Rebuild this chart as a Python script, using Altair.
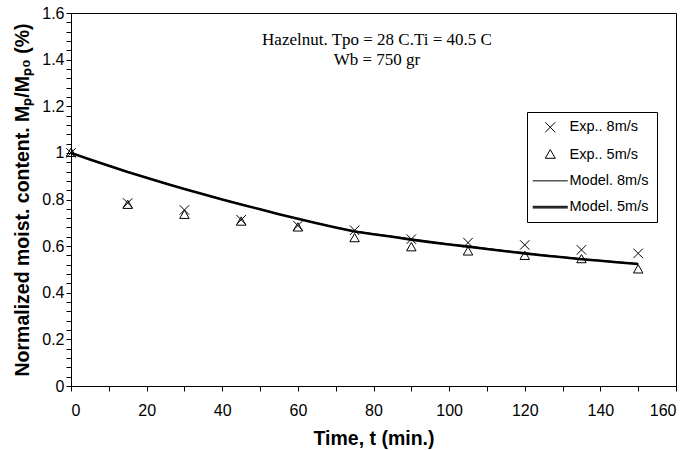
import altair as alt
import pandas as pd

# ---- data ----
time_exp = [0, 15, 30, 45, 60, 75, 90, 105, 120, 135, 150]
exp_8 = [1.000, 0.785, 0.755, 0.713, 0.688, 0.668, 0.630, 0.615, 0.605, 0.584, 0.569]
exp_5 = [1.000, 0.777, 0.734, 0.705, 0.680, 0.634, 0.595, 0.577, 0.558, 0.544, 0.500]

time_model = [0, 5, 10, 15, 20, 25, 30, 35, 40, 45, 50, 55, 60, 65, 70, 75,
              80, 85, 90, 95, 100, 105, 110, 115, 120, 125, 130, 135, 140, 145, 150]
model_5 = [1.000, 0.972, 0.945, 0.918, 0.893, 0.869, 0.845, 0.823, 0.800, 0.779,
           0.758, 0.737, 0.717, 0.698, 0.680, 0.663, 0.651, 0.640, 0.628, 0.617,
           0.607, 0.598, 0.588, 0.578, 0.569, 0.560, 0.552, 0.544, 0.537, 0.530, 0.523]
model_8 = [1.000, 0.973, 0.946, 0.919, 0.894, 0.870, 0.846, 0.824, 0.801, 0.780,
           0.759, 0.738, 0.718, 0.699, 0.681, 0.665, 0.653, 0.642, 0.630, 0.619,
           0.609, 0.600, 0.590, 0.580, 0.571, 0.562, 0.554, 0.546, 0.539, 0.532, 0.525]

series = ["Exp.. 8m/s", "Exp.. 5m/s", "Model. 8m/s", "Model. 5m/s"]
x_ticks = [0, 10, 20, 30, 40, 50, 60, 70, 80, 90, 100, 110, 120, 130, 140, 150, 160]
y_ticks = [round(i * 0.04, 2) for i in range(41)]
note_lines = ["Hazelnut. Tpo = 28 C.Ti = 40.5 C", "Wb = 750 gr"]

exp_df = pd.DataFrame({
    "t": time_exp + time_exp,
    "m": exp_8 + exp_5,
    "series": [series[0]] * len(time_exp) + [series[1]] * len(time_exp),
})
m5_df = pd.DataFrame({"t": time_model, "m": model_5})
m8_df = pd.DataFrame({"t": time_model, "m": model_8})

FONT = "Liberation Sans"

x_scale = alt.Scale(domain=[0, 160], nice=False, zero=False)
y_scale = alt.Scale(domain=[0, 1.6], nice=False)

x_axis = alt.Axis(
    title="Time, t (min.)", values=x_ticks,
    labelExpr="datum.value % 20 == 0 ? '' + datum.value : ''",
    grid=False, tickSize=5, labelPadding=11, titlePadding=11,
)
y_axis = alt.Axis(
    title="Normalized moist. content. Mₚ/Mₚ₀ (%)", values=y_ticks,
    labelExpr="abs(datum.value*5 - round(datum.value*5)) < 0.000001 ? '' + datum.value : ''",
    grid=False, tickSize=5, labelPadding=2,
    titleX=-49, titleY=186.5, titleAngle=270, titleAlign="center", titleBaseline="middle",
)

X_PATH = "M-1,-1L1,1M-1,1L1,-1"
TRI_PATH = "M0,-1L1,0.75L-1,0.75Z"
THIN_LINE = "M-3.5,0L3.5,0"
THICK_LINE = "M-3.5,-0.17L3.5,-0.17M-3.5,0L3.5,0M-3.5,0.17L3.5,0.17"

legend = alt.Legend(
    title=None, orient="none", legendX=456, legendY=99, columns=1,
    strokeColor="black", fillColor="white", padding=8,
    rowPadding=11.3, symbolSize=100, symbolOffset=8, labelOffset=12,
    symbolStrokeColor="black", symbolFillColor="transparent", symbolStrokeWidth=1,
    labelFont=FONT, labelFontSize=14.5, labelColor="black",
    labelLimit=200,
)

base_x = alt.X("t:Q", scale=x_scale, axis=x_axis)
base_y = alt.Y("m:Q", scale=y_scale, axis=y_axis)

line5 = alt.Chart(m5_df).mark_line(color="black", strokeWidth=2.6).encode(x=base_x, y=base_y)
line8 = alt.Chart(m8_df).mark_line(color="black", strokeWidth=1).encode(x=base_x, y=base_y)

points = alt.Chart(exp_df).mark_point(
    filled=False, color="black", opacity=1, size=90, strokeWidth=1
).encode(
    x=base_x, y=base_y,
    shape=alt.Shape(
        "series:N",
        scale=alt.Scale(domain=series, range=[X_PATH, TRI_PATH, THIN_LINE, THICK_LINE]),
        legend=legend,
    ),
)

note = alt.Chart(pd.DataFrame({"a": [0]})).mark_text(
    text=note_lines, font="Liberation Serif", fontSize=17, color="black",
    align="center", baseline="alphabetic", lineHeight=20,
).encode(x=alt.value(306), y=alt.value(32))

chart = alt.layer(line5, line8, points, note).properties(
    width=605, height=373,
    autosize=alt.AutoSizeParams(type="none"),
    padding={"left": 71, "top": 13, "right": 15, "bottom": 64},
    background="white",
).configure_view(
    stroke="black", strokeWidth=1
).configure_axis(
    domainColor="black", tickColor="black", labelColor="black", titleColor="black",
    labelFont=FONT, titleFont=FONT, labelFontSize=16, titleFontSize=19.5,
    titleFontWeight="bold", labelFontWeight="normal", domainWidth=1, tickWidth=1,
)

chart.save("out.html", embed_options={"renderer": "svg", "actions": False})
